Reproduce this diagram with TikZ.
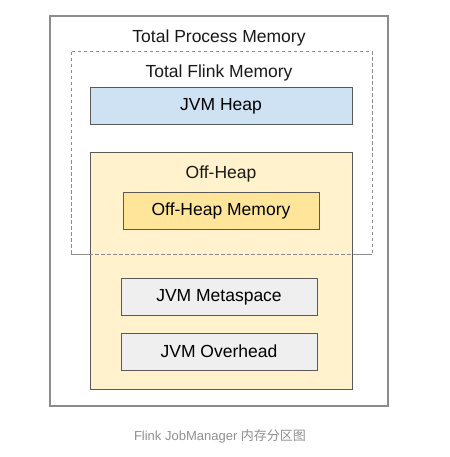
\documentclass[tikz,border=0pt]{standalone}
\usepackage{fontspec}
\setmainfont{Liberation Sans}
\newfontfamily\cjk{Noto Sans CJK SC}
\definecolor{heapblue}{HTML}{CFE2F3}
\definecolor{offyellow}{HTML}{FFF2CC}
\definecolor{memyellow}{HTML}{FFE599}
\definecolor{metagray}{HTML}{EFEFEF}
\definecolor{edgegray}{HTML}{595959}
\definecolor{framegray}{HTML}{8C8C8C}
\definecolor{captiongray}{HTML}{8F8F8F}
\tikzset{
  membox/.style={draw=edgegray,line width=1pt,minimum height=37pt,font=\fontsize{17.5}{20}\selectfont},
  memlabel/.style={font=\fontsize{17.5}{20}\selectfont,text=black!90},
  flinkdash/.style={framegray,line width=1pt,dash pattern=on 3.5pt off 2.5pt}
}
\begin{document}
\begin{tikzpicture}[x=1pt,y=-1pt]
    \useasboundingbox (0,0) rectangle (449,457);
    \draw[framegray,line width=1.2pt] (50,16) rectangle (388,406); % Total Process Memory
    \node[memlabel] (tpmlabel) at (219,38) {Total Process Memory};
    \draw[flinkdash] (71,52) rectangle (372,254); % Total Flink Memory
    \node[memlabel] (tfmlabel) at (219,73) {Total Flink Memory};
    \node[membox,fill=heapblue,minimum width=262pt] (heap) at (221,106.5) {JVM Heap};
    \draw[edgegray,fill=offyellow,line width=1pt] (90,153) rectangle (352,389); % Off-Heap
    \node[memlabel] (offlabel) at (221,174) {Off-Heap};
    \node[membox,fill=memyellow,minimum width=196pt] (offmem) at (221,211) {Off-Heap Memory};
    \draw[flinkdash] (71,254) -- (372,254); % gestrichelte Kante ueber Off-Heap
    \node[membox,fill=metagray,minimum width=196pt] (meta) at (219,297) {JVM Metaspace};
    \node[membox,fill=metagray,minimum width=196pt] (overhead) at (219,351.5) {JVM Overhead};
    \node[text=captiongray,font=\fontsize{13}{15}\selectfont] (caption) at (220,436) {Flink JobManager {\cjk 内存分区图}};
\end{tikzpicture}
\end{document}
